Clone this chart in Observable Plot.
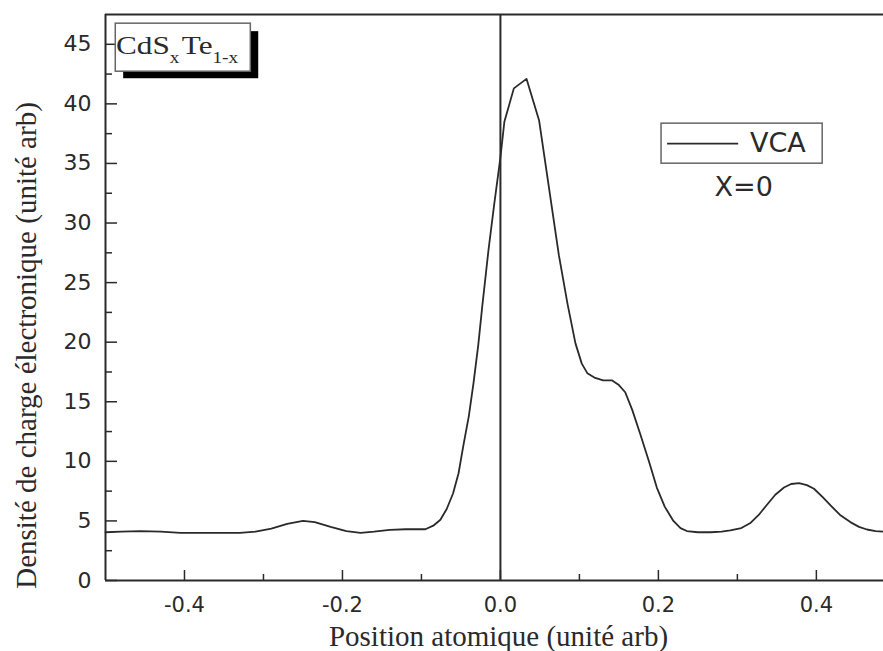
<!DOCTYPE html>
<html>
<head>
<meta charset="utf-8">
<script src="https://cdn.jsdelivr.net/npm/d3@7"></script>
<script src="https://cdn.jsdelivr.net/npm/@observablehq/plot@0.6"></script>
<style>
  html, body { margin: 0; padding: 0; background: #fff; }
</style>
</head>
<body>
<div id="chart"></div>
<script>
// ---- data ----
const positions = [
  -0.5, -0.48, -0.456, -0.43, -0.405, -0.37, -0.33, -0.31, -0.29, -0.27, -0.25, -0.235,
  -0.215, -0.195, -0.177, -0.16, -0.14, -0.12, -0.095, -0.085, -0.076, -0.068, -0.06,
  -0.053, -0.047, -0.04, -0.034, -0.028, -0.023, -0.015, -0.008, 0.0, 0.005, 0.017,
  0.033, 0.049, 0.074, 0.085, 0.095, 0.103, 0.11, 0.12, 0.13, 0.141, 0.15, 0.158,
  0.167, 0.177, 0.188, 0.198, 0.208, 0.219, 0.228, 0.236, 0.25, 0.266, 0.28, 0.291,
  0.305, 0.316, 0.327, 0.338, 0.348, 0.359, 0.368, 0.378, 0.388, 0.397, 0.408, 0.418,
  0.43, 0.443, 0.454, 0.464, 0.475, 0.485
];
const density = [
  4.05, 4.1, 4.15, 4.1, 4.0, 4.0, 4.0, 4.1, 4.35, 4.75, 5.0, 4.9,
  4.5, 4.15, 4.0, 4.1, 4.25, 4.3, 4.3, 4.6, 5.1, 6.0, 7.3,
  9.0, 11.3, 13.8, 16.6, 19.8, 23.0, 27.8, 31.5, 35.5, 38.5, 41.3,
  42.1, 38.6, 27.3, 23.2, 19.9, 18.2, 17.4, 17.0, 16.8, 16.8, 16.4, 15.8,
  14.3, 12.3, 10.0, 7.8, 6.2, 5.0, 4.4, 4.15, 4.05, 4.05, 4.1, 4.2,
  4.4, 4.8, 5.5, 6.4, 7.2, 7.8, 8.1, 8.17, 8.0, 7.7, 7.0, 6.3,
  5.5, 4.9, 4.5, 4.28, 4.15, 4.1
];
const xMajorTicks = [-0.4, -0.2, 0.0, 0.2, 0.4];
const xMinorTicks = [-0.3, -0.1, 0.1, 0.3];
const yMajorTicks = [0, 5, 10, 15, 20, 25, 30, 35, 40, 45];
const yMinorTicks = [2.5, 7.5, 12.5, 17.5, 22.5, 27.5, 32.5, 37.5, 42.5];
const xTitle = "Position atomique (unité arb)";
const yTitle = "Densité de charge électronique (unité arb)";
const seriesName = "VCA";
const compositionNote = "X=0";
const xDomain = [-0.5, 0.485];
const yDomain = [0, 47.5];

// annotation anchors (data units)
const legendBox = [{x1: 0.204, x2: 0.408, y1: 34.98, y2: 38.34}];
const legendSample = [{x1: 0.211, x2: 0.301, y: 36.66}];
const legendLabel = [{x: 0.316, y: 36.66, text: seriesName}];
const noteLabel = [{x: 0.308, y: 32.97, text: compositionNote}];
const formulaBox = [{x1: -0.487, x2: -0.316, y1: 42.70, y2: 46.73}];
const formulaShadow = [{x1: -0.477, x2: -0.306, y1: 42.11, y2: 46.06}];
const formulaAnchor = {x: -0.486, y: 44.15};

const data = positions.map((x, i) => ({x, y: density[i]}));
const ink = "#2a2a2a";

const plot = Plot.plot({
  width: 883,
  height: 651,
  marginLeft: 105,
  marginRight: 0,
  marginTop: 14,
  marginBottom: 71,
  x: {domain: xDomain},
  y: {domain: yDomain},
  style: {fontFamily: "DejaVu Sans", background: "#fff", color: ink},
  marks: [
    // frame (top, left, bottom)
    Plot.ruleY([yDomain[1]], {stroke: ink, strokeWidth: 2}),
    Plot.ruleX([xDomain[0]], {stroke: ink, strokeWidth: 2}),
    Plot.ruleY([0], {stroke: ink, strokeWidth: 2}),
    // vertical line at 0
    Plot.ruleX([0], {stroke: ink, strokeWidth: 2}),
    // curve
    Plot.line(data, {x: "x", y: "y", stroke: ink, strokeWidth: 1.8}),
    // ticks (inward)
    Plot.axisX(xMajorTicks, {anchor: "bottom", tickSize: -10, tickFormat: () => "", stroke: ink, strokeWidth: 1.5}),
    Plot.axisX(xMinorTicks, {anchor: "bottom", tickSize: -6, tickFormat: () => "", stroke: ink, strokeWidth: 1.5}),
    Plot.axisX(xMajorTicks, {anchor: "bottom", tickSize: 0, tickPadding: 17, fontSize: 21, fill: ink,
      tickFormat: d => d.toFixed(1), label: null}),
    Plot.axisY(yMajorTicks, {anchor: "left", tickSize: -12, tickFormat: () => "", stroke: ink, strokeWidth: 1.5}),
    Plot.axisY(yMinorTicks, {anchor: "left", tickSize: -7, tickFormat: () => "", stroke: ink, strokeWidth: 1.5}),
    Plot.axisY(yMajorTicks, {anchor: "left", tickSize: 0, tickPadding: 14, fontSize: 22, fill: ink,
      tickFormat: d => String(d), label: null}),
    // axis titles
    Plot.text([xTitle], {frameAnchor: "bottom", textAnchor: "middle", lineAnchor: "middle", dy: 56, dx: 4,
      fontFamily: "Liberation Serif", fontSize: 29, fill: ink}),
    Plot.text([yTitle], {frameAnchor: "left", textAnchor: "middle", lineAnchor: "middle", rotate: -90, dx: -79, dy: 48,
      fontFamily: "Liberation Serif", fontSize: 29, fill: ink}),
    // legend
    Plot.rect(legendBox, {x1: "x1", x2: "x2", y1: "y1", y2: "y2", fill: "#fff", stroke: "#666", strokeWidth: 1.5}),
    Plot.link(legendSample, {x1: "x1", x2: "x2", y1: "y", y2: "y", stroke: ink, strokeWidth: 1.8}),
    Plot.text(legendLabel, {x: "x", y: "y", text: "text", textAnchor: "start", fontSize: 27, fill: ink}),
    Plot.text(noteLabel, {x: "x", y: "y", text: "text", fontSize: 27, fill: ink}),
    // formula box with shadow
    Plot.rect(formulaShadow, {x1: "x1", x2: "x2", y1: "y1", y2: "y2", fill: "#000"}),
    Plot.rect(formulaBox, {x1: "x1", x2: "x2", y1: "y1", y2: "y2", fill: "#fff", stroke: "#666", strokeWidth: 1.5})
  ]
});

// formula label with subscripts, positioned via the plot's scales
const sx = plot.scale("x"), sy = plot.scale("y");
const fx = sx.apply(formulaAnchor.x), fy = sy.apply(formulaAnchor.y);
const t = d3.select(plot).append("g")
  .attr("transform", `translate(${fx},${fy}) scale(1.2,1)`)
  .append("text")
  .attr("text-anchor", "start")
  .attr("font-family", "Liberation Serif")
  .attr("font-size", 26)
  .attr("fill", ink);
t.append("tspan").text("CdS");
t.append("tspan").attr("font-size", 16).attr("dy", 9).text("x");
t.append("tspan").attr("dy", -9).attr("dx", 2).text("Te");
t.append("tspan").attr("font-size", 16).attr("dy", 9).text("1-x");

document.getElementById("chart").appendChild(plot);
</script>
</body>
</html>
